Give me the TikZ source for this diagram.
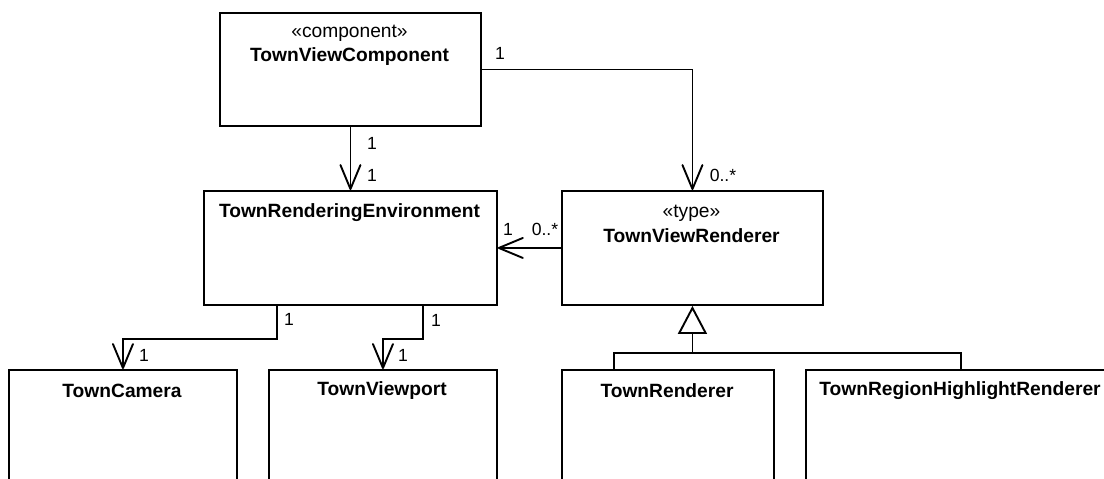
\documentclass[tikz,border=0pt]{standalone}
\usepackage{fontspec}
\setmainfont{Liberation Sans}
\usetikzlibrary{arrows.meta}
\begin{document}
\begin{tikzpicture}[x=1pt,y=-1pt,
  box/.style={draw, line width=1.9pt, rectangle, anchor=north west, inner sep=0pt},
  title/.style={font=\fontsize{19.2}{22}\selectfont\bfseries, inner sep=0pt},
  stereo/.style={font=\fontsize{19.2}{22}\selectfont, inner sep=0pt},
  mult/.style={font=\fontsize{17.6}{20}\selectfont, inner sep=0pt},
  assoc/.style={draw, line width=1.9pt, -{Straight Barb[length=24pt,width=20pt,line width=1.9pt,round]}},
  gen/.style={draw, line width=1.9pt, -{Triangle[open,length=28pt,width=29pt,fill=white]}},
  conn/.style={draw, line width=1.9pt}
]
\clip (0,0) rectangle (1104,479);
\fill[white] (0,0) rectangle (1104,479);

% boxes
\node[box, minimum width=261pt, minimum height=113pt] (tvc) at (219,12) {};
\node[stereo] (tvcs) at (349.5,33) {«component»};
\node[title] (tvct) at (349.5,57) {TownViewComponent};

\node[box, minimum width=293pt, minimum height=114pt] (tre) at (203,190) {};
\node[title] (tret) at (349.5,213) {TownRenderingEnvironment};

\node[box, minimum width=261pt, minimum height=114pt] (tvr) at (561,190) {};
\node[stereo] (tvrs) at (691.5,213) {«type»};
\node[title] (tvrt) at (691.5,236) {TownViewRenderer};

\node[box, minimum width=228pt, minimum height=140pt] (cam) at (8,369) {};
\node[title] (camt) at (122,391) {TownCamera};

\node[box, minimum width=228pt, minimum height=140pt] (vp) at (268,369) {};
\node[title] (vpt) at (382,391) {TownViewport};

\node[box, minimum width=212pt, minimum height=140pt] (rend) at (561,369) {};
\node[title] (rendt) at (667,391) {TownRenderer};

\node[box, minimum width=310pt, minimum height=140pt] (trhr) at (805,369) {};
\node[title] (trhrt) at (960,391) {TownRegionHighlightRenderer};

% associations
\draw[assoc] (tvc.south) -- (tre.north);
\node[mult] (m1a) at (372,143) {1};
\node[mult] (m1b) at (372,175) {1};

\draw[assoc] (tvc.east) -| (tvr.north);
\node[mult] (m2a) at (500,53) {1};
\node[mult] (m2b) at (723,175) {0..*};

\draw[assoc] (tvr.west) -- (tre.east);
\node[mult] (m3a) at (508,229) {1};
\node[mult] (m3b) at (545,229) {0..*};

\draw[assoc] ([xshift=74pt]tre.south west) -- ++(0,33) -| (cam.north);
\node[mult] (m4a) at (289,319) {1};
\node[mult] (m4b) at (144,355) {1};

\draw[assoc] ([xshift=220pt]tre.south west) -- ++(0,33) -| (vp.north);
\node[mult] (m5a) at (436,320) {1};
\node[mult] (m5b) at (403,355) {1};

% generalization
\coordinate (gj) at (tvr.south |- 0,353);
\draw[conn] ([xshift=53pt]rend.north west) |- (gj);
\draw[conn] (trhr.north) |- (gj);
\draw[gen] (gj) -- (tvr.south);
\end{tikzpicture}
\end{document}
